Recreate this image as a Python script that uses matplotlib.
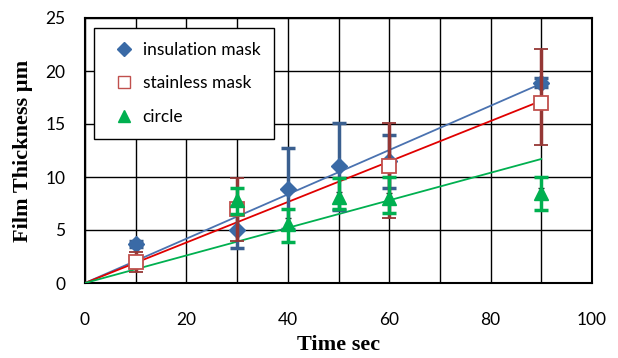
import matplotlib
matplotlib.use("Agg")
import matplotlib.pyplot as plt
from matplotlib.lines import Line2D
import numpy as np

# Data
ins_x = [10, 30, 40, 50, 60, 90]
ins_y = [3.7, 5.0, 8.9, 11.0, 11.5, 18.9]
ins_lo = [0.3, 1.7, 3.8, 4.1, 2.5, 0.4]
ins_hi = [0.3, 1.5, 3.8, 4.1, 2.5, 0.4]

sta_x = [10, 30, 60, 90]
sta_y = [2.0, 7.0, 11.0, 17.0]
sta_lo = [1.0, 3.0, 4.9, 4.0]
sta_hi = [0.9, 2.9, 4.1, 5.1]

cir_x = [30, 40, 50, 60, 90]
cir_y = [7.8, 5.6, 8.1, 8.0, 8.5]
cir_lo = [1.3, 1.7, 1.1, 1.4, 1.6]
cir_hi = [1.2, 1.4, 1.8, 2.0, 1.5]

# trendline slopes (through origin)
slope_ins = 0.209
slope_sta = 0.191
slope_cir = 0.130
trend_x = [0, 90]

labels = ['insulation mask', 'stainless mask', 'circle']

fig = plt.figure(figsize=(6.18, 3.58), dpi=100)
ax = fig.add_axes([85/618, 1-283/358, (592-85)/618, (283-18)/358])

ax.set_xlim(0, 100)
ax.set_ylim(0, 25)
ax.set_xticks(np.arange(0, 101, 20))
ax.set_xticks(np.arange(0, 101, 10), minor=True)
ax.set_yticks(np.arange(0, 26, 5))
ax.grid(True, which='both', color='black', linewidth=1.0)
ax.set_axisbelow(True)
ax.tick_params(which='both', length=0, labelsize=12.5)
ax.tick_params(axis='x', pad=21)
ax.tick_params(axis='y', pad=14)
for lab in ax.get_xticklabels() + ax.get_yticklabels():
    lab.set_fontfamily('Lato')
for s in ax.spines.values():
    s.set_linewidth(1.5)
    s.set_color('black')

# trendlines
tx = np.array(trend_x)
ax.plot(tx, slope_ins * tx, color='#4a72b0', lw=1.3, zorder=3)
ax.plot(tx, slope_sta * tx, color='#e00000', lw=1.3, zorder=3)
ax.plot(tx, slope_cir * tx, color='#00b050', lw=1.3, zorder=3)

# small dark error marks
ax.errorbar(cir_x[1:], cir_y[1:], yerr=0.5, fmt='none', ecolor='#222222', elinewidth=1.2, capsize=2, zorder=3)

ax.errorbar(ins_x, ins_y, yerr=[ins_lo, ins_hi], fmt='D', color='#3a6aa6', ms=8,
            ecolor='#3a5f8f', elinewidth=2.5, capsize=5, capthick=2.5, zorder=4)
ax.errorbar(sta_x, sta_y, yerr=[sta_lo, sta_hi], fmt='s', mfc='white', mec='#c0504d', mew=1.3, ms=10,
            ecolor='#953735', elinewidth=2.5, capsize=5, capthick=2.5, zorder=5)
ax.errorbar(cir_x, cir_y, yerr=[cir_lo, cir_hi], fmt='^', color='#00b050', ms=10,
            ecolor='#00b050', elinewidth=2.5, capsize=5, capthick=2.5, zorder=6)

handles = [
    Line2D([], [], marker='D', color='#3a6aa6', ls='none', ms=7),
    Line2D([], [], marker='s', mfc='white', mec='#c0504d', ls='none', ms=9),
    Line2D([], [], marker='^', color='#00b050', ls='none', ms=9),
]
leg = ax.legend(handles, labels,
                loc='upper left', bbox_to_anchor=(94/618, 1-28/358), bbox_transform=fig.transFigure,
                frameon=True, fancybox=False, edgecolor='black', framealpha=1,
                prop={'family': 'Lato', 'size': 12.5}, handletextpad=0.2,
                labelspacing=1.0, borderpad=0.8, handlelength=1.8, borderaxespad=0)
leg.get_frame().set_linewidth(1.0)
leg.set_zorder(10)

ax.set_xlabel('Time sec', fontfamily='Liberation Serif', fontweight='bold', fontsize=16, labelpad=5)
ax.set_ylabel('Film Thickness µm', fontfamily='Liberation Serif', fontweight='bold', fontsize=16, labelpad=9)

fig.savefig('out.png', dpi=100)
